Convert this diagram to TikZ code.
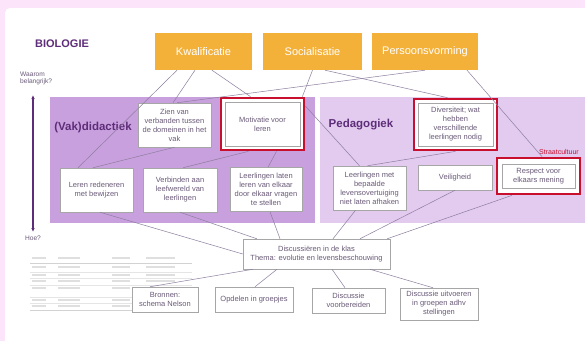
\documentclass[tikz,border=0pt]{standalone}
\usepackage{fontspec}
\setmainfont{Liberation Sans}
\usetikzlibrary{arrows.meta,fit,backgrounds}
\definecolor{bgpink}{HTML}{FCE4FA}
\definecolor{oranje}{HTML}{F4B13A}
\definecolor{donkerlila}{HTML}{C9A0DE}
\definecolor{lichtlila}{HTML}{E3CBF0}
\definecolor{paars}{HTML}{5E2D79}
\definecolor{tekst}{HTML}{6A5A78}
\definecolor{lijn}{HTML}{8C7E9E}
\definecolor{rood}{HTML}{C8102E}
\tikzset{>={Latex[length=4pt,width=3.5pt]}}
\tikzset{
  doel/.style={fill=oranje,text=white,font=\fontsize{11}{13}\selectfont,
               minimum height=37pt,inner sep=0pt},
  vak/.style={draw=gray!70,fill=white,text=tekst,line width=0.5pt,
              font=\fontsize{7.5}{9}\selectfont,align=center,inner sep=1pt},
  kader/.style={draw=rood,line width=2.2pt,fill=white,inner sep=4pt},
  kop/.style={text=paars,font=\fontsize{11.5}{13}\selectfont\bfseries},
  lijntje/.style={draw=lijn,line width=0.5pt},
}

\begin{document}
\begin{tikzpicture}[x=1pt,y=-1pt]
\useasboundingbox (0,0) rectangle (585,341);

% vlakken
\begin{scope}[on background layer]
\fill[bgpink] (0,0) rectangle (585,341);
\fill[white,rounded corners=5pt] (5,8) rectangle (592,348);
\fill[donkerlila] (50,97) rectangle (315,223);
\fill[lichtlila] (320,97) rectangle (585,223);
\end{scope}

% tabelletje links onder
\begin{scope}[gray!35,line width=0.4pt]
\draw (30,263) -- (192,263);
\draw (30,310) -- (192,310);
\foreach \y in {272,278,285,297,303} \draw[gray!20] (30,\y) -- (192,\y);
\foreach \y in {258,267,275,281,288,300,306}
  {\draw[line width=1.2pt,gray!25] (32,\y) -- (46,\y);
   \draw[line width=1.2pt,gray!25] (58,\y) -- (80,\y);
   \draw[line width=1.2pt,gray!25] (112,\y) -- (130,\y);
   \draw[line width=1.2pt,gray!25] (146,\y) -- (175,\y);}
\end{scope}

% teksten
\node[kop,font=\fontsize{11}{13}\selectfont\bfseries] (bio) at (62,44) {BIOLOGIE};
\node[kop] (didact) at (93,128) {(Vak)didactiek};
\node[kop] (pedag) at (361,125) {Pedagogiek};
\node[text=tekst,font=\fontsize{6.6}{7}\selectfont,align=left,anchor=west,inner sep=0pt]
  (waarom) at (20,78) {Waarom\\belangrijk?};
\node[text=tekst,font=\fontsize{6.6}{7}\selectfont,inner sep=0pt] (hoe) at (33,238) {Hoe?};
\node[text=rood,font=\fontsize{7}{8}\selectfont,anchor=east,inner sep=0pt]
  (straat) at (579,152) {Straatcultuur};
\coordinate (boven) at (33,95);
\coordinate (onder) at (33,232);
\draw[<->,paars,line width=1.3pt] (boven) -- (onder);

% doelen
\node[doel,minimum width=97pt] (kwal) at (203.5,51.5) {Kwalificatie};
\node[doel,minimum width=99pt] (soc) at (312.5,51.5) {Socialisatie};
\node[doel,minimum width=106pt] (pers) at (425,51.5) {Persoonsvorming};

% bovenste rij
\node[vak,minimum width=73pt,minimum height=44pt] (zien) at (174.5,125)
  {Zien van\\verbanden tussen\\de domeinen in het\\vak};
\node[vak,minimum width=75pt,minimum height=44pt] (motiv) at (262.5,124)
  {Motivatie voor\\leren};
\node[vak,minimum width=75pt,minimum height=43pt] (divers) at (455.5,124.5)
  {Diversiteit; wat\\hebben\\verschillende\\leerlingen nodig};

% onderste rij
\node[vak,minimum width=73pt,minimum height=44pt] (leren) at (96.5,190)
  {Leren redeneren\\met bewijzen};
\node[vak,minimum width=74pt,minimum height=44pt] (verb) at (180,190)
  {Verbinden aan\\leefwereld van\\leerlingen};
\node[vak,minimum width=72pt,minimum height=44pt] (laten) at (266,189.5)
  {Leerlingen laten\\leren van elkaar\\door elkaar vragen\\te stellen};
\node[vak,minimum width=73pt,minimum height=44pt] (bepaald) at (369.5,188)
  {Leerlingen met\\bepaalde\\levensovertuiging\\niet laten afhaken};
\node[vak,minimum width=74pt,minimum height=25pt] (veilig) at (455,177.5)
  {Veiligheid};
\node[vak,minimum width=73pt,minimum height=24pt] (respect) at (538.5,176)
  {Respect voor\\elkaars mening};

% rode kaders
\begin{scope}[on background layer]
\node[kader,fit=(motiv)] (motivf) {};
\node[kader,fit=(divers)] (diversf) {};
\node[kader,fit=(respect),inner xsep=5pt,inner ysep=6pt] (respectf) {};
\end{scope}

% klas
\node[vak,minimum width=147pt,minimum height=30pt] (disc) at (316.5,254)
  {Discussi\"eren in de klas\\Thema: evolutie en levensbeschouwing};
\node[vak,minimum width=66pt,minimum height=25pt] (bron) at (165,299.5)
  {Bronnen:\\schema Nelson};
\node[vak,minimum width=78pt,minimum height=25pt] (opdel) at (254,299.5)
  {Opdelen in groepjes};
\node[vak,minimum width=73pt,minimum height=25pt] (voorb) at (348.5,300.5)
  {Discussie\\voorbereiden};
\node[vak,minimum width=78pt,minimum height=32pt] (uitv) at (439,304)
  {Discussie uitvoeren\\in groepen adhv\\stellingen};

% verbindingen boven
\draw[lijntje] ([xshift=-26.5pt]kwal.south) -- ([xshift=-18.5pt]leren.north);
\draw[lijntje] ([xshift=-8.5pt]kwal.south) -- ([xshift=-1.5pt]zien.north);
\draw[lijntje] ([xshift=8.5pt]kwal.south) -- ([xshift=-12pt]motivf.north);
\draw[lijntje] (pers.south) -- ([xshift=2.5pt]zien.north);
\draw[lijntje] (soc.south) -- ([xshift=-3pt]motivf.north east);
\draw[lijntje] ([xshift=12.5pt]soc.south) -- ([xshift=-8pt]diversf.north);
\draw[lijntje] ([xshift=42pt]pers.south) -- ([xshift=3.5pt]respectf.north);

% verbindingen midden
\draw[lijntje] (zien.south) -- ([xshift=-3.5pt]leren.north);
\draw[lijntje] ([xshift=-14pt]motivf.south) -- ([xshift=3pt]verb.north);
\draw[lijntje] ([xshift=14pt]motivf.south) -- ([xshift=2pt]laten.north);
\draw[lijntje] ([yshift=18pt]motivf.east) -- ([xshift=-10pt]bepaald.north);
\draw[lijntje] (diversf.south) -- ([xshift=-2pt]bepaald.north);

% verbindingen naar de klas
\draw[lijntje] ([xshift=3.5pt]leren.south) -- (disc.west);
\draw[lijntje] (verb.south) -- ([xshift=14pt]disc.north west);
\draw[lijntje] ([xshift=4pt]laten.south) -- ([xshift=-36.5pt]disc.north);
\draw[lijntje] ([xshift=-14pt]bepaald.south) -- ([xshift=16.5pt]disc.north);
\draw[lijntje] (veilig.south) -- ([xshift=43.5pt]disc.north);
\draw[lijntje] ([xshift=-26.5pt]respectf.south) -- ([xshift=-3pt]disc.north east);

% verbindingen onder
\draw[lijntje] ([xshift=-63.5pt]disc.south) -- ([xshift=-15pt]bron.north);
\draw[lijntje] ([xshift=-39.5pt]disc.south) -- ([xshift=1pt]opdel.north);
\draw[lijntje] ([xshift=15.5pt]disc.south) -- ([xshift=-3.5pt]voorb.north);
\draw[lijntje] ([xshift=53.5pt]disc.south) -- ([xshift=-6pt]uitv.north);
\end{tikzpicture}
\end{document}
